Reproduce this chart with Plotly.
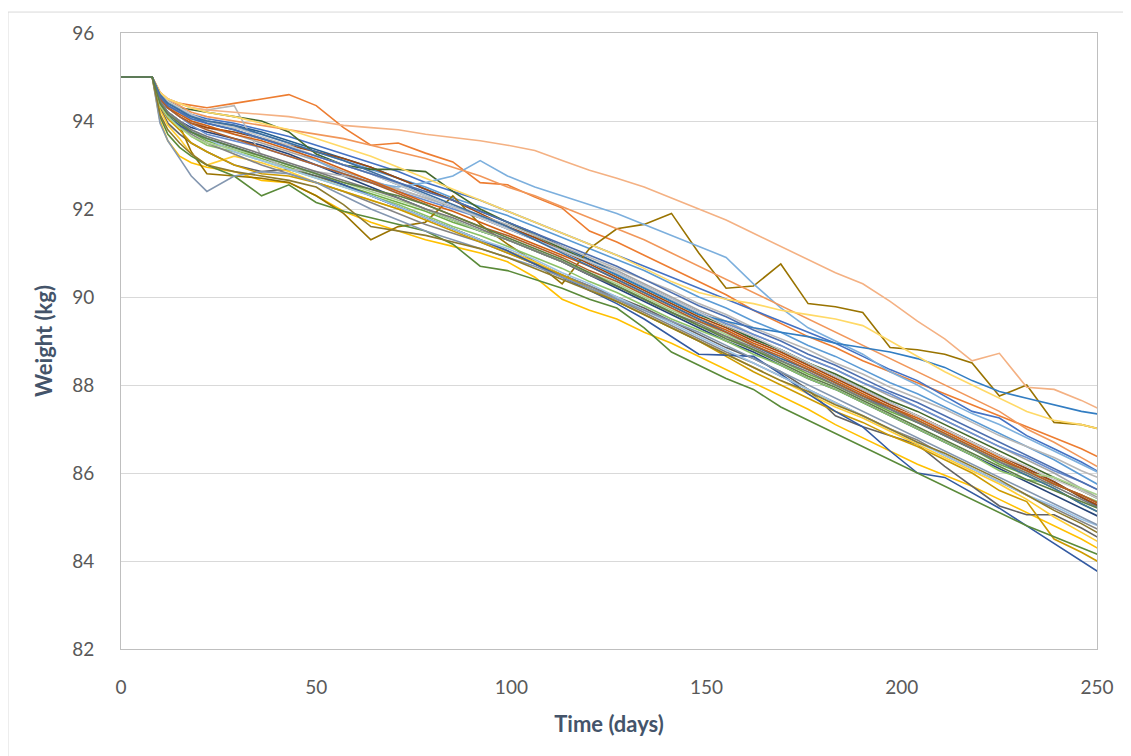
import plotly.graph_objects as go

days = [0, 8, 10, 12, 15, 18, 22, 29, 36, 43, 50, 57, 64, 71, 78, 85, 92, 99, 106, 113, 120, 127,
        134, 141, 148, 155, 162, 169, 176, 183, 190, 197, 204, 211, 218, 225, 232, 239, 246, 253]

w01 = [95, 95, 94.6, 94.45, 94.3, 94.15, 94.0, 93.85, 93.7, 93.5, 93.3, 93.1, 92.9, 92.7, 92.5, 92.25, 92.05, 91.85, 91.6, 91.35, 91.1, 90.85, 90.6, 90.3, 90.0, 89.75, 89.45, 89.2, 88.9, 88.65, 88.35, 88.05, 87.8, 87.5, 87.2, 86.9, 86.6, 86.3, 85.95, 85.6]
w02 = [95, 95, 94.65, 94.5, 94.4, 94.35, 94.3, 94.4, 94.5, 94.6, 94.35, 93.85, 93.45, 93.5, 93.27, 93.07, 92.6, 92.55, 92.27, 92.02, 91.5, 91.25, 90.95, 90.65, 90.35, 90.05, 89.7, 89.4, 89.1, 88.85, 88.55, 88.3, 88.05, 87.8, 87.55, 87.3, 87.05, 86.8, 86.55, 86.25]
w03 = [95, 95, 94.55, 94.35, 94.2, 94.0, 93.85, 93.7, 93.5, 93.3, 93.1, 92.85, 92.65, 92.45, 92.25, 92.05, 91.85, 91.6, 91.35, 91.1, 90.85, 90.6, 90.3, 90.0, 89.7, 89.45, 89.15, 88.9, 88.6, 88.35, 88.05, 87.75, 87.5, 87.2, 86.9, 86.6, 86.3, 86.0, 85.65, 85.3]
w04 = [95, 95, 94.0, 93.55, 93.2, 93.05, 92.95, 92.85, 92.65, 92.6, 92.3, 91.95, 91.7, 91.5, 91.3, 91.15, 91.0, 90.8, 90.45, 89.95, 89.7, 89.5, 89.2, 88.95, 88.65, 88.35, 88.05, 87.75, 87.45, 87.1, 86.8, 86.5, 86.2, 85.95, 85.7, 85.4, 85.1, 84.8, 84.5, 84.15]
w05 = [95, 95, 94.6, 94.45, 94.3, 94.15, 94.05, 93.95, 93.8, 93.65, 93.45, 93.25, 93.05, 92.85, 92.6, 92.4, 92.2, 91.95, 91.7, 91.45, 91.2, 90.95, 90.7, 90.45, 90.2, 89.95, 89.7, 89.45, 89.2, 88.95, 88.65, 88.35, 88.1, 87.75, 87.4, 87.25, 86.85, 86.55, 86.25, 85.9]
w06 = [95, 95, 94.45, 94.2, 94.0, 93.75, 93.55, 93.35, 93.15, 92.95, 92.75, 92.55, 92.35, 92.15, 91.95, 91.7, 91.5, 91.3, 91.05, 90.8, 90.5, 90.25, 89.95, 89.65, 89.35, 89.1, 88.8, 88.55, 88.25, 88.0, 87.7, 87.4, 87.15, 86.85, 86.55, 86.2, 85.95, 85.65, 85.3, 85.0]
w07 = [95, 95, 94.55, 94.35, 94.2, 94.1, 94.0, 93.9, 93.75, 93.55, 93.35, 93.15, 92.95, 92.7, 92.45, 92.2, 91.95, 91.7, 91.45, 91.15, 90.85, 90.55, 90.25, 89.95, 89.65, 89.35, 89.05, 88.8, 88.5, 88.2, 87.9, 87.6, 87.3, 87.0, 86.7, 86.4, 86.1, 85.8, 85.45, 85.1]
w08 = [95, 95, 94.5, 94.3, 94.1, 93.95, 93.85, 93.75, 93.6, 93.45, 93.3, 93.15, 92.95, 92.7, 92.45, 92.2, 91.9, 91.6, 91.35, 91.05, 90.75, 90.45, 90.15, 89.85, 89.55, 89.3, 89.0, 88.75, 88.45, 88.15, 87.85, 87.55, 87.3, 87.0, 86.7, 86.4, 86.1, 85.8, 85.45, 85.15]
w09 = [95, 95, 94.3, 93.95, 93.7, 93.5, 93.3, 93.0, 92.85, 92.9, 92.75, 92.55, 92.3, 92.05, 91.8, 91.55, 91.3, 91.05, 90.8, 90.5, 90.25, 90.0, 89.75, 89.45, 89.15, 88.85, 88.6, 88.3, 87.9, 87.3, 87.05, 86.85, 86.65, 86.15, 85.7, 85.25, 85.05, 85.05, 84.75, 84.4]
w10 = [95, 95, 94.4, 94.1, 93.9, 93.3, 92.8, 92.75, 92.7, 92.6, 92.3, 91.9, 91.3, 91.6, 91.7, 92.3, 91.65, 91.2, 90.8, 90.3, 91.1, 91.55, 91.65, 91.9, 91.0, 90.2, 90.25, 90.75, 89.85, 89.78, 89.65, 88.85, 88.8, 88.7, 88.5, 87.75, 88.0, 87.15, 87.1, 86.95]
w11 = [95, 95, 94.45, 94.2, 94.0, 93.85, 93.75, 93.6, 93.45, 93.25, 93.0, 92.75, 92.5, 92.25, 92.0, 91.75, 91.5, 91.3, 91.05, 90.8, 90.5, 90.2, 89.9, 89.6, 89.3, 89.0, 88.75, 88.45, 88.15, 87.9, 87.6, 87.3, 87.0, 86.7, 86.4, 86.1, 85.8, 85.5, 85.2, 84.9]
w12 = [95, 95, 94.6, 94.45, 94.3, 94.25, 94.2, 94.1, 94.0, 93.75, 93.25, 93.0, 92.9, 92.9, 92.85, 92.4, 92.0, 91.7, 91.4, 91.1, 90.8, 90.5, 90.2, 89.9, 89.6, 89.35, 89.05, 88.8, 88.5, 88.25, 87.95, 87.65, 87.4, 87.1, 86.8, 86.5, 86.2, 85.9, 85.6, 85.3]
w13 = [95, 95, 94.55, 94.35, 94.2, 94.05, 93.95, 93.8, 93.6, 93.4, 93.1, 92.8, 92.6, 92.5, 92.6, 92.75, 93.1, 92.75, 92.5, 92.3, 92.1, 91.9, 91.65, 91.4, 91.15, 90.9, 90.3, 89.75, 89.3, 89.0, 88.7, 88.3, 88.0, 87.65, 87.35, 87.1, 86.8, 86.5, 86.2, 85.9]
w14 = [95, 95, 94.65, 94.5, 94.35, 94.2, 94.1, 94.0, 93.9, 93.8, 93.7, 93.6, 93.45, 93.3, 93.15, 92.95, 92.75, 92.5, 92.3, 92.05, 91.8, 91.55, 91.3, 91.0, 90.7, 90.4, 90.1, 89.8, 89.5, 89.2, 88.9, 88.6, 88.3, 88.0, 87.7, 87.4, 87.0, 86.7, 86.35, 86.0]
w15 = [95, 95, 94.65, 94.5, 94.4, 94.3, 94.25, 94.35, 93.2, 92.9, 92.85, 92.75, 92.6, 92.45, 92.25, 92.05, 91.85, 91.65, 91.4, 91.15, 90.9, 90.65, 90.4, 90.15, 89.85, 89.6, 89.3, 89.05, 88.8, 88.5, 88.25, 87.95, 87.7, 87.45, 87.15, 86.85, 86.6, 86.35, 86.05, 85.8]
w16 = [95, 95, 94.25, 93.9, 93.6, 93.25, 93.0, 93.2, 93.05, 92.85, 92.6, 92.4, 92.2, 92.0, 91.8, 91.55, 91.3, 91.05, 90.8, 90.5, 90.2, 89.9, 89.6, 89.3, 89.0, 88.7, 88.4, 88.1, 87.8, 87.5, 87.25, 86.95, 86.65, 86.35, 86.05, 85.75, 85.4, 85.0, 84.65, 84.3]
w17 = [95, 95, 94.5, 94.3, 94.1, 93.9, 93.7, 93.55, 93.4, 93.2, 93.0, 92.8, 92.6, 92.4, 92.2, 92.0, 91.8, 91.55, 91.3, 91.05, 90.8, 90.55, 90.25, 89.95, 89.65, 89.4, 89.15, 88.9, 88.6, 88.35, 88.05, 87.8, 87.5, 87.2, 86.9, 86.6, 86.35, 86.05, 85.8, 85.5]
w18 = [95, 95, 94.4, 94.1, 93.9, 93.65, 93.45, 93.3, 93.1, 92.9, 92.7, 92.5, 92.3, 92.1, 91.85, 91.6, 91.4, 91.15, 90.9, 90.65, 90.35, 90.1, 89.8, 89.5, 89.25, 89.0, 88.7, 88.45, 88.15, 87.9, 87.6, 87.3, 87.0, 86.7, 86.4, 86.05, 85.85, 85.75, 85.5, 85.25]
w19 = [95, 95, 94.6, 94.4, 94.25, 94.1, 93.95, 93.8, 93.6, 93.4, 93.2, 93.0, 92.8, 92.55, 92.3, 92.05, 91.8, 91.55, 91.3, 91.05, 90.8, 90.5, 90.2, 89.9, 89.6, 89.45, 89.3, 89.2, 89.1, 88.95, 88.85, 88.75, 88.6, 88.4, 88.1, 87.85, 87.7, 87.55, 87.4, 87.3]
w20 = [95, 95, 94.55, 94.3, 94.15, 94.0, 93.9, 93.7, 93.55, 93.35, 93.15, 92.9, 92.65, 92.4, 92.15, 91.95, 91.7, 91.45, 91.2, 90.95, 90.7, 90.4, 90.1, 89.8, 89.5, 89.25, 88.95, 88.7, 88.4, 88.1, 87.8, 87.5, 87.25, 86.95, 86.65, 86.35, 86.05, 85.75, 85.5, 85.2]
w21 = [95, 95, 94.4, 94.1, 93.9, 93.7, 93.5, 93.25, 93.0, 92.8, 92.6, 92.4, 92.15, 91.9, 91.65, 91.45, 91.25, 91.0, 90.75, 90.5, 90.25, 89.95, 89.65, 89.35, 89.05, 88.75, 88.5, 88.2, 87.9, 87.6, 87.3, 87.0, 86.75, 86.4, 86.1, 85.8, 85.5, 85.2, 84.9, 84.6]
w22 = [95, 95, 94.35, 94.05, 93.8, 93.5, 93.3, 93.0, 92.8, 92.75, 92.6, 92.4, 92.2, 92.0, 91.75, 91.5, 91.25, 91.0, 90.75, 90.5, 90.2, 89.9, 89.6, 89.3, 89.0, 88.65, 88.3, 88.0, 87.7, 87.4, 87.15, 86.85, 86.6, 86.3, 86.0, 85.6, 85.35, 84.5, 84.2, 83.85]
w23 = [95, 95, 94.4, 94.1, 93.9, 93.75, 93.6, 93.4, 93.2, 93.0, 92.8, 92.55, 92.3, 92.05, 91.8, 91.55, 91.3, 91.05, 90.75, 90.45, 90.15, 89.85, 89.5, 89.1, 88.7, 88.68, 88.65, 88.25, 87.8, 87.4, 87.05, 86.5, 86.0, 85.9, 85.55, 85.2, 84.8, 84.4, 84.0, 83.6]
w24 = [95, 95, 94.1, 93.7, 93.4, 93.2, 93.0, 92.75, 92.3, 92.55, 92.15, 91.95, 91.8, 91.65, 91.5, 91.2, 90.7, 90.6, 90.4, 90.2, 89.95, 89.75, 89.3, 88.75, 88.45, 88.15, 87.9, 87.5, 87.2, 86.9, 86.6, 86.3, 86.0, 85.7, 85.4, 85.1, 84.8, 84.55, 84.3, 84.05]
w25 = [95, 95, 94.45, 94.2, 94.0, 93.8, 93.6, 93.3, 93.1, 92.9, 92.7, 92.5, 92.3, 92.05, 91.8, 91.55, 91.3, 91.1, 90.85, 90.55, 90.3, 90.0, 89.7, 89.4, 89.1, 88.8, 88.5, 88.2, 87.9, 87.6, 87.3, 87.0, 86.7, 86.4, 86.1, 85.8, 85.5, 85.25, 84.95, 84.7]
w26 = [95, 95, 94.65, 94.5, 94.4, 94.3, 94.25, 94.2, 94.15, 94.1, 94.0, 93.9, 93.85, 93.8, 93.7, 93.62, 93.55, 93.45, 93.33, 93.1, 92.88, 92.7, 92.5, 92.25, 92.0, 91.75, 91.45, 91.15, 90.85, 90.55, 90.3, 89.9, 89.45, 89.05, 88.55, 88.72, 87.95, 87.9, 87.65, 87.35]
w27 = [95, 95, 94.6, 94.45, 94.3, 94.15, 94.0, 93.85, 93.65, 93.45, 93.2, 93.0, 92.8, 92.55, 92.3, 92.05, 91.8, 91.55, 91.3, 91.05, 90.8, 90.55, 90.25, 89.95, 89.65, 89.35, 89.1, 88.8, 88.5, 88.2, 87.9, 87.6, 87.3, 87.0, 86.7, 86.4, 86.15, 85.85, 85.6, 85.3]
w28 = [95, 95, 94.65, 94.5, 94.4, 94.3, 94.2, 94.1, 93.95, 93.8, 93.6, 93.4, 93.2, 92.95, 92.7, 92.45, 92.2, 91.95, 91.7, 91.45, 91.2, 90.95, 90.65, 90.35, 90.1, 89.95, 89.85, 89.7, 89.6, 89.5, 89.35, 89.0, 88.65, 88.3, 88.0, 87.7, 87.4, 87.2, 87.1, 86.95]
w29 = [95, 95, 93.95, 93.55, 93.15, 92.75, 92.4, 92.75, 92.85, 92.8, 92.6, 92.3, 92.0, 91.75, 91.5, 91.3, 91.1, 90.9, 90.7, 90.45, 90.2, 89.95, 89.7, 89.45, 89.2, 88.9, 88.6, 88.3, 88.0, 87.7, 87.4, 87.1, 86.8, 86.5, 86.2, 85.9, 85.6, 85.3, 85.0, 84.7]
w30 = [95, 95, 94.35, 94.1, 93.85, 93.65, 93.5, 93.35, 93.2, 93.0, 92.8, 92.6, 92.4, 92.2, 92.0, 91.75, 91.5, 91.3, 91.05, 90.8, 90.55, 90.3, 90.0, 89.7, 89.45, 89.15, 88.9, 88.6, 88.35, 88.05, 87.75, 87.45, 87.2, 86.9, 86.6, 86.3, 86.0, 85.9, 85.65, 85.4]
w31 = [95, 95, 94.6, 94.4, 94.25, 94.1, 94.0, 93.9, 93.7, 93.5, 93.3, 93.1, 92.85, 92.6, 92.35, 92.1, 91.85, 91.6, 91.3, 91.0, 90.7, 90.4, 90.1, 89.8, 89.5, 89.2, 88.9, 88.6, 88.35, 88.05, 87.75, 87.45, 87.15, 86.85, 86.55, 86.25, 85.95, 85.65, 85.3, 85.0]
w32 = [95, 95, 94.5, 94.3, 94.1, 93.95, 93.8, 93.6, 93.4, 93.2, 93.0, 92.8, 92.6, 92.35, 92.1, 91.85, 91.6, 91.4, 91.15, 90.9, 90.6, 90.35, 90.05, 89.75, 89.45, 89.2, 88.9, 88.65, 88.35, 88.05, 87.75, 87.5, 87.2, 86.9, 86.6, 86.3, 86.05, 85.75, 85.5, 85.2]
w33 = [95, 95, 94.45, 94.2, 94.0, 93.8, 93.65, 93.45, 93.25, 93.05, 92.85, 92.65, 92.45, 92.25, 92.0, 91.8, 91.55, 91.3, 91.05, 90.8, 90.5, 90.25, 89.95, 89.65, 89.4, 89.1, 88.85, 88.55, 88.3, 88.0, 87.7, 87.45, 87.15, 86.85, 86.55, 86.25, 86.0, 85.7, 85.4, 85.1]
w34 = [95, 95, 94.15, 93.8, 93.5, 93.25, 93.0, 92.85, 92.75, 92.65, 92.5, 92.1, 91.6, 91.5, 91.4, 91.25, 91.1, 90.9, 90.65, 90.4, 90.15, 89.9, 89.6, 89.3, 89.0, 88.7, 88.4, 88.1, 87.85, 87.55, 87.3, 87.0, 86.7, 86.45, 86.15, 85.85, 85.5, 85.15, 84.85, 84.5]
w35 = [95, 95, 94.55, 94.35, 94.2, 94.05, 93.95, 93.8, 93.6, 93.4, 93.2, 93.0, 92.8, 92.6, 92.4, 92.2, 91.95, 91.7, 91.45, 91.2, 90.95, 90.7, 90.4, 90.1, 89.8, 89.55, 89.25, 89.0, 88.7, 88.45, 88.15, 87.85, 87.6, 87.3, 87.0, 86.7, 86.4, 86.1, 85.8, 85.5]
w36 = [95, 95, 94.4, 94.15, 93.95, 93.75, 93.6, 93.4, 93.2, 93.0, 92.8, 92.6, 92.45, 92.3, 92.1, 91.85, 91.6, 91.35, 91.1, 90.85, 90.55, 90.25, 89.95, 89.65, 89.35, 89.05, 88.8, 88.5, 88.2, 87.95, 87.65, 87.35, 87.05, 86.75, 86.45, 86.15, 85.85, 85.6, 85.35, 85.1]

colors = ["#5B9BD5", "#ED7D31", "#A5A5A5", "#FFC000", "#4472C4", "#70AD47",
          "#255E91", "#9E480E", "#636363", "#997300", "#264478", "#43682B",
          "#7CAFDD", "#F1975A", "#B7B7B7", "#FFCD33", "#698ED0", "#8CC168",
          "#327DC2", "#D26012", "#848484", "#CC9A00", "#335AA1", "#5A8A39",
          "#9DC3E6", "#F4B183", "#C9C9C9", "#FFD966", "#8497B0", "#A9D18E",
          "#3F6FA0", "#B0602A", "#7A7A7A", "#8C7A2E", "#4D6FAF", "#5E7F45"]

x_ticks = [0, 50, 100, 150, 200, 250]
y_ticks = [82, 84, 86, 88, 90, 92, 94, 96]

series = [w01, w02, w03, w04, w05, w06, w07, w08, w09, w10, w11, w12,
          w13, w14, w15, w16, w17, w18, w19, w20, w21, w22, w23, w24,
          w25, w26, w27, w28, w29, w30, w31, w32, w33, w34, w35, w36]

fig = go.Figure()
for ys, c in zip(series, colors):
    fig.add_trace(go.Scatter(x=days, y=ys, mode="lines",
                             line=dict(color=c, width=1.6),
                             showlegend=False, hoverinfo="skip"))

title_color = "#44546A"
fig.update_layout(
    width=1123, height=748,
    margin=dict(l=113, r=34, t=25, b=107),
    paper_bgcolor="white", plot_bgcolor="white",
    font=dict(family="Lato", color="#595959", size=19),
    shapes=[dict(type="rect", xref="paper", yref="paper",
                 x0=-0.1158, x1=1.3, y0=-0.4, y1=1.034,
                 line=dict(color="#D9D9D9", width=1), layer="below")],
)
fig.update_xaxes(
    range=[0, 250], tickvals=x_ticks, showgrid=False, zeroline=False,
    showline=True, linecolor="#BFBFBF", linewidth=1, mirror=True,
    ticks="", ticklabelstandoff=21,
    title=dict(text="<b>Time (days)</b>", font=dict(size=22, color=title_color), standoff=19),
)
fig.update_yaxes(
    range=[82, 96], tickvals=y_ticks, showgrid=True, gridcolor="#D9D9D9",
    gridwidth=1, zeroline=False,
    showline=True, linecolor="#BFBFBF", linewidth=1, mirror=True,
    ticks="", ticklabelstandoff=22,
    title=dict(text="<b>Weight (kg)</b>", font=dict(size=22, color=title_color), standoff=13),
)

fig.write_html("out.html")
